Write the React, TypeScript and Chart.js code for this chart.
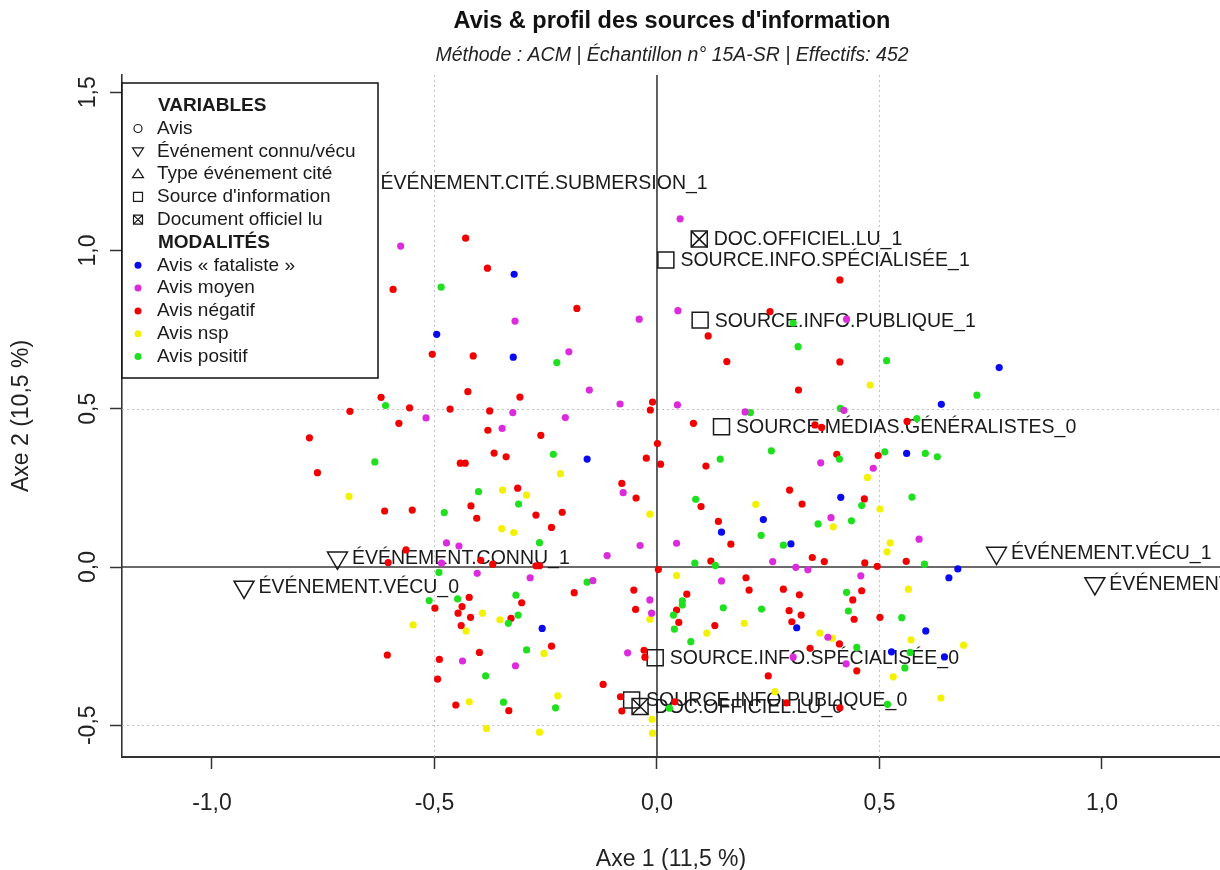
import React, { useEffect, useRef } from "react";
import { Chart, registerables } from "chart.js";

Chart.register(...registerables);

type Pt = [number, number];

// ---------------- DATA ----------------
const avisFataliste: Pt[] = [
  [-0.321, 0.925], [-0.495, 0.735], [-0.323, 0.663], [-0.157, 0.341], [0.769, 0.630], [0.639, 0.514],
  [0.561, 0.359], [0.413, 0.220], [0.239, 0.150], [0.145, 0.110], [0.301, 0.073], [0.676, -0.006],
  [0.656, -0.034], [-0.258, -0.194], [0.314, -0.192], [0.604, -0.202], [0.527, -0.268], [0.646, -0.284],
];

const avisMoyen: Pt[] = [
  [0.052, 1.100], [-0.576, 1.014], [0.047, 0.810], [-0.040, 0.783], [-0.319, 0.777], [0.426, 0.783],
  [-0.198, 0.680], [-0.152, 0.559], [-0.083, 0.515], [0.046, 0.512], [-0.324, 0.488], [-0.206, 0.472],
  [-0.519, 0.471], [-0.348, 0.438], [0.198, 0.490], [0.420, 0.495], [0.368, 0.329], [0.486, 0.312],
  [0.391, 0.156], [0.589, 0.088], [0.044, 0.075], [-0.038, 0.068], [-0.112, 0.036], [-0.473, 0.076],
  [-0.445, 0.066], [-0.484, 0.012], [-0.404, -0.020], [-0.285, -0.034], [-0.144, -0.043], [0.260, 0.017],
  [0.312, -0.001], [0.339, -0.009], [0.458, -0.028], [0.145, -0.044], [-0.016, -0.104], [-0.012, -0.146],
  [0.384, -0.222], [-0.066, -0.271], [0.306, -0.285], [0.425, -0.306], [-0.437, -0.297], [-0.318, -0.312],
  [-0.076, 0.235],
];

const avisNegatif: Pt[] = [
  [-0.430, 1.039], [-0.381, 0.944], [0.411, 0.907], [-0.593, 0.877], [-0.180, 0.817], [0.254, 0.807],
  [0.115, 0.730], [-0.505, 0.672], [-0.413, 0.667], [0.157, 0.649], [0.411, 0.648], [0.318, 0.559],
  [-0.425, 0.554], [-0.308, 0.537], [-0.620, 0.536], [-0.690, 0.492], [-0.556, 0.503], [-0.465, 0.499],
  [-0.376, 0.493], [-0.010, 0.521], [-0.015, 0.496], [-0.580, 0.454], [-0.380, 0.432], [-0.261, 0.416],
  [0.082, 0.454], [0.355, 0.449], [0.370, 0.441], [0.562, 0.460], [-0.781, 0.408], [0.001, 0.390],
  [-0.024, 0.344], [-0.366, 0.360], [-0.339, 0.348], [0.404, 0.356], [0.497, 0.352], [0.008, 0.325],
  [0.110, 0.319], [-0.763, 0.298], [-0.442, 0.328], [-0.431, 0.328], [-0.079, 0.264], [-0.047, 0.218],
  [-0.313, 0.249], [-0.418, 0.193], [0.298, 0.243], [0.326, 0.199], [0.466, 0.215], [0.099, 0.191],
  [-0.612, 0.177], [-0.550, 0.180], [-0.405, 0.154], [-0.272, 0.164], [-0.213, 0.173], [-0.237, 0.125],
  [0.138, 0.144], [0.166, 0.072], [-0.564, 0.054], [-0.604, 0.014], [-0.396, 0.021], [-0.369, 0.009],
  [-0.272, 0.004], [-0.264, 0.004], [0.121, 0.019], [0.349, 0.030], [0.376, 0.017], [0.467, 0.013],
  [0.495, 0.002], [0.560, 0.018], [0.003, -0.008], [0.200, -0.034], [-0.052, -0.073], [-0.186, -0.081],
  [0.207, -0.073], [0.284, -0.070], [0.460, -0.075], [0.067, -0.086], [0.320, -0.088], [0.440, -0.104],
  [-0.422, -0.096], [-0.499, -0.130], [-0.438, -0.125], [-0.447, -0.146], [-0.419, -0.159], [-0.440, -0.185],
  [-0.304, -0.113], [-0.328, -0.162], [-0.048, -0.134], [0.044, -0.136], [0.049, -0.175], [0.130, -0.185],
  [0.297, -0.138], [0.324, -0.152], [0.303, -0.173], [0.443, -0.165], [0.501, -0.159], [0.410, -0.243],
  [0.344, -0.257], [-0.029, -0.263], [-0.027, -0.285], [-0.237, -0.250], [-0.399, -0.270], [-0.606, -0.278],
  [-0.489, -0.292], [-0.493, -0.354], [0.449, -0.328], [0.250, -0.344], [-0.121, -0.371], [-0.082, -0.410],
  [-0.079, -0.455], [0.040, -0.426], [0.291, -0.429], [0.411, -0.445], [-0.452, -0.436], [-0.333, -0.454],
];

const avisNsp: Pt[] = [
  [0.479, 0.575], [0.473, 0.283], [-0.217, 0.295], [-0.692, 0.223], [-0.347, 0.243], [-0.293, 0.227],
  [-0.016, 0.167], [-0.349, 0.121], [-0.322, 0.109], [0.222, 0.198], [0.501, 0.183], [0.396, 0.127],
  [0.524, 0.076], [0.517, 0.048], [0.044, -0.027], [0.565, -0.070], [-0.016, -0.165], [-0.392, -0.146],
  [-0.353, -0.167], [-0.548, -0.183], [-0.429, -0.202], [0.196, -0.178], [0.112, -0.209], [0.366, -0.209],
  [0.394, -0.225], [0.571, -0.230], [0.689, -0.247], [-0.254, -0.273], [0.531, -0.347], [0.265, -0.394],
  [0.638, -0.414], [-0.223, -0.407], [-0.422, -0.426], [-0.383, -0.510], [-0.264, -0.522], [-0.011, -0.481],
  [-0.010, -0.525],
];

const avisPositif: Pt[] = [
  [-0.485, 0.884], [0.306, 0.771], [0.317, 0.696], [-0.225, 0.646], [0.516, 0.652], [0.719, 0.543],
  [-0.610, 0.510], [0.210, 0.488], [0.412, 0.501], [0.584, 0.469], [0.142, 0.341], [0.257, 0.367],
  [0.410, 0.341], [0.512, 0.364], [0.603, 0.359], [0.630, 0.348], [-0.233, 0.356], [-0.634, 0.332],
  [-0.401, 0.238], [-0.311, 0.199], [-0.478, 0.172], [0.087, 0.214], [0.460, 0.194], [0.573, 0.221],
  [0.234, 0.100], [0.362, 0.136], [0.437, 0.146], [-0.264, 0.077], [0.284, 0.069], [0.085, 0.012],
  [0.131, 0.005], [0.601, 0.009], [-0.490, -0.017], [-0.157, -0.048], [-0.512, -0.106], [-0.448, -0.101],
  [-0.317, -0.089], [-0.312, -0.152], [-0.334, -0.178], [0.057, -0.107], [0.057, -0.120], [0.037, -0.152],
  [0.039, -0.196], [0.149, -0.129], [0.235, -0.133], [0.426, -0.080], [0.430, -0.139], [0.550, -0.160],
  [0.076, -0.236], [0.449, -0.254], [0.569, -0.270], [0.557, -0.319], [-0.293, -0.262], [-0.385, -0.344],
  [-0.345, -0.427], [-0.228, -0.445], [0.518, -0.434], [0.028, -0.446],
];

// Supplementary categories (labelled)
const sourceLabels = [
  "SOURCE.INFO.SPÉCIALISÉE_1", "SOURCE.INFO.PUBLIQUE_1", "SOURCE.MÉDIAS.GÉNÉRALISTES_0",
  "SOURCE.INFO.SPÉCIALISÉE_0", "SOURCE.INFO.PUBLIQUE_0",
];
const sourceCoords: Pt[] = [[0.020, 0.970], [0.097, 0.780], [0.145, 0.443], [-0.004, -0.287], [-0.057, -0.420]];

const docLabels = ["DOC.OFFICIEL.LU_1", "DOC.OFFICIEL.LU_0"];
const docCoords: Pt[] = [[0.095, 1.036], [-0.038, -0.441]];

const evenementLabels = ["ÉVÉNEMENT.CONNU_1", "ÉVÉNEMENT.VÉCU_0", "ÉVÉNEMENT.VÉCU_1", "ÉVÉNEMENT.CONNU_0"];
const evenementCoords: Pt[] = [[-0.718, 0.029], [-0.928, -0.063], [0.763, 0.044], [0.984, -0.052]];

const typeCiteLabels = ["ÉVÉNEMENT.CITÉ.SUBMERSION_1"];
const typeCiteCoords: Pt[] = [[-0.654, 1.216]];

// Text
const titleText = "Avis & profil des sources d'information";
const subtitleText = "Méthode : ACM | Échantillon n° 15A-SR | Effectifs: 452";
const xAxisTitle = "Axe 1 (11,5 %)";
const yAxisTitle = "Axe 2 (10,5 %)";
const variablesHeader = "VARIABLES";
const variableItems = ["Avis", "Événement connu/vécu", "Type événement cité", "Source d'information", "Document officiel lu"];
const variableSymbols = ["circle", "triDown", "triUp", "square", "crossSquare"];
const modalitesHeader = "MODALITÉS";
const modaliteItems = ["Avis « fataliste »", "Avis moyen", "Avis négatif", "Avis nsp", "Avis positif"];
const guideValues = [-0.5, 0.5];

// ---------------- STYLE ----------------
const BLUE = "#0a0af0";
const MAGENTA = "#dc2bdc";
const RED = "#f20000";
const YELLOW = "#f2f200";
const GREEN = "#1ee01e";
const modaliteColors = [BLUE, MAGENTA, RED, YELLOW, GREEN];
const FONT = "'Liberation Sans', Arial, Helvetica, sans-serif";
const INK = "#1a1a1a";

const toXY = (arr: Pt[]) => arr.map(([x, y]) => ({ x, y }));
const fmt = (v: number | string) => Number(v).toFixed(1).replace(".", ",").replace("-0,0", "0,0");

function drawSymbol(ctx: CanvasRenderingContext2D, kind: string, x: number, y: number) {
  ctx.save();
  ctx.strokeStyle = INK;
  ctx.lineWidth = 1.2;
  ctx.beginPath();
  if (kind === "circle") {
    ctx.arc(x, y, 4, 0, Math.PI * 2);
  } else if (kind === "triDown") {
    ctx.moveTo(x - 5.5, y - 3.5);
    ctx.lineTo(x + 5.5, y - 3.5);
    ctx.lineTo(x, y + 5);
    ctx.closePath();
  } else if (kind === "triUp") {
    ctx.moveTo(x - 5.5, y + 3.5);
    ctx.lineTo(x + 5.5, y + 3.5);
    ctx.lineTo(x, y - 5);
    ctx.closePath();
  } else if (kind === "square" || kind === "crossSquare") {
    ctx.rect(x - 4.5, y - 4.5, 9, 9);
    if (kind === "crossSquare") {
      ctx.moveTo(x - 4.5, y - 4.5);
      ctx.lineTo(x + 4.5, y + 4.5);
      ctx.moveTo(x + 4.5, y - 4.5);
      ctx.lineTo(x - 4.5, y + 4.5);
    }
  }
  ctx.stroke();
  ctx.restore();
}

const guidePlugin = {
  id: "guides",
  beforeDatasetsDraw(chart: any) {
    const { ctx, chartArea: a, scales } = chart;
    const xs = scales.x;
    const ys = scales.y;
    ctx.save();
    ctx.strokeStyle = "#c2c2c2";
    ctx.lineWidth = 1;
    ctx.setLineDash([2, 3]);
    for (const v of guideValues) {
      const px = Math.round(xs.getPixelForValue(v)) + 0.5;
      ctx.beginPath();
      ctx.moveTo(px, a.top);
      ctx.lineTo(px, a.bottom);
      ctx.stroke();
      const py = Math.round(ys.getPixelForValue(v)) + 0.5;
      ctx.beginPath();
      ctx.moveTo(a.left, py);
      ctx.lineTo(a.right, py);
      ctx.stroke();
    }
    ctx.setLineDash([]);
    ctx.strokeStyle = "#3a3a3a";
    ctx.lineWidth = 1.6;
    const x0 = xs.getPixelForValue(0);
    ctx.beginPath();
    ctx.moveTo(x0, a.top);
    ctx.lineTo(x0, a.bottom);
    ctx.stroke();
    const y0 = ys.getPixelForValue(0);
    ctx.beginPath();
    ctx.moveTo(a.left, y0);
    ctx.lineTo(a.right, y0);
    ctx.stroke();
    ctx.restore();
  },
};

const pointLabelPlugin = {
  id: "pointLabels",
  afterDatasetDraw(chart: any, args: any) {
    const ds: any = chart.data.datasets[args.index];
    if (!ds.pointLabels) return;
    const ctx = chart.ctx;
    ctx.save();
    ctx.font = `19.5px ${FONT}`;
    ctx.fillStyle = INK;
    ctx.textAlign = "left";
    ctx.textBaseline = "middle";
    args.meta.data.forEach((el: any, i: number) => {
      ctx.fillText(ds.pointLabels[i], el.x + 14.5, el.y + 1);
    });
    ctx.restore();
  },
};

const decorPlugin = {
  id: "decor",
  afterDraw(chart: any) {
    const { ctx, chartArea: a } = chart;
    const cx = (a.left + a.right) / 2 + 1;
    ctx.save();
    // Title & subtitle
    ctx.fillStyle = "#111";
    ctx.textAlign = "center";
    ctx.textBaseline = "middle";
    ctx.font = `bold 23.5px ${FONT}`;
    ctx.fillText(titleText, cx, 22);
    ctx.font = `italic 19.5px ${FONT}`;
    ctx.fillStyle = "#222";
    ctx.fillText(subtitleText, cx, 56);

    // Legend box
    const bx = a.left;
    const by = 83;
    const bw = 256;
    const bh = 295;
    ctx.fillStyle = "#ffffff";
    ctx.fillRect(bx, by, bw, bh);
    ctx.strokeStyle = "#111";
    ctx.lineWidth = 1.5;
    ctx.strokeRect(bx, by, bw, bh);

    const rowH = 22.8;
    const textX = 157;
    const symX = 138;
    let yy = 105.7;
    ctx.textAlign = "left";
    ctx.textBaseline = "middle";
    ctx.fillStyle = INK;
    ctx.font = `bold 19px ${FONT}`;
    ctx.fillText(variablesHeader, textX + 1, yy);
    ctx.font = `19px ${FONT}`;
    variableItems.forEach((t, i) => {
      yy += rowH;
      drawSymbol(ctx, variableSymbols[i], symX, yy);
      ctx.fillStyle = INK;
      ctx.fillText(t, textX, yy);
    });
    yy += rowH;
    ctx.font = `bold 19px ${FONT}`;
    ctx.fillText(modalitesHeader, textX + 1, yy);
    ctx.font = `19px ${FONT}`;
    modaliteItems.forEach((t, i) => {
      yy += rowH;
      ctx.beginPath();
      ctx.fillStyle = modaliteColors[i];
      ctx.arc(symX, yy, 3.5, 0, Math.PI * 2);
      ctx.fill();
      ctx.fillStyle = INK;
      ctx.fillText(t, textX, yy);
    });
    ctx.restore();
  },
};

const dotDataset = (label: string, data: Pt[], color: string) => ({
  label,
  data: toXY(data),
  pointStyle: "circle",
  pointRadius: 3.6,
  pointBackgroundColor: color,
  pointBorderColor: color,
  pointBorderWidth: 0,
});

const markerDataset = (label: string, data: Pt[], style: string, radius: number, rotation: number, labels?: string[]) => ({
  label,
  data: toXY(data),
  pointStyle: style,
  pointRadius: radius,
  pointRotation: rotation,
  pointBackgroundColor: "rgba(0,0,0,0)",
  pointBorderColor: INK,
  pointBorderWidth: 1.5,
  pointLabels: labels,
});

export default function App() {
  const ref = useRef<HTMLCanvasElement | null>(null);

  useEffect(() => {
    if (!ref.current) return;
    const tickFont = { family: FONT, size: 23 };
    const chart = new Chart(ref.current, {
      type: "scatter",
      data: {
        datasets: [
          dotDataset("Avis « fataliste »", avisFataliste, BLUE),
          dotDataset("Avis moyen", avisMoyen, MAGENTA),
          dotDataset("Avis nsp", avisNsp, YELLOW),
          dotDataset("Avis positif", avisPositif, GREEN),
          dotDataset("Avis négatif", avisNegatif, RED),
          markerDataset("Source d'information", sourceCoords, "rect", 11.3, 0, sourceLabels),
          markerDataset("Document officiel lu", docCoords, "crossRot", 11.3, 0),
          markerDataset("Document officiel lu (cadre)", docCoords, "rect", 11.3, 0, docLabels),
          markerDataset("Événement connu/vécu", evenementCoords, "triangle", 11.5, 180, evenementLabels),
          markerDataset("Type événement cité", typeCiteCoords, "triangle", 11.5, 0, typeCiteLabels),
        ] as any,
      },
      options: {
        responsive: false,
        animation: false,
        events: [],
        layout: { autoPadding: false, padding: { top: 75, left: 0, right: 0, bottom: 0 } },
        plugins: {
          legend: { display: false },
          tooltip: { enabled: false },
          title: { display: false },
        },
        scales: {
          x: {
            type: "linear",
            position: "bottom",
            min: -1.2022,
            max: 1.2652,
            ticks: {
              stepSize: 0.5,
              includeBounds: false,
              autoSkip: false,
              maxRotation: 0,
              minRotation: 0,
              padding: 21,
              color: "#222",
              font: tickFont,
              callback: (v: any) => fmt(v),
            },
            grid: { display: true, drawOnChartArea: false, drawTicks: true, tickLength: 12, tickColor: "#333", tickWidth: 1.5 },
            border: { display: true, color: "#333", width: 2 },
            title: { display: true, text: xAxisTitle, color: "#222", font: tickFont, padding: { top: 0, bottom: -3 } },
            afterFit: (s: any) => {
              s.height = 113;
              s.paddingLeft = 0;
              s.paddingRight = 0;
            },
          },
          y: {
            type: "linear",
            position: "left",
            min: -0.6003,
            max: 1.5545,
            ticks: {
              stepSize: 0.5,
              includeBounds: false,
              autoSkip: false,
              minRotation: 90,
              maxRotation: 90,
              crossAlign: "center",
              padding: 2,
              color: "#222",
              font: tickFont,
              callback: (v: any) => fmt(v),
            },
            grid: { display: true, drawOnChartArea: false, drawTicks: true, tickLength: 12, tickColor: "#333", tickWidth: 1.5 },
            border: { display: true, color: "#333", width: 1.6 },
            title: { display: true, text: yAxisTitle, color: "#222", font: tickFont, padding: { top: 8, bottom: 0 } },
            afterFit: (s: any) => {
              s.width = 122;
              s.paddingTop = 0;
              s.paddingBottom = 0;
            },
          },
        },
      } as any,
      plugins: [guidePlugin, pointLabelPlugin, decorPlugin],
    });
    return () => chart.destroy();
  }, []);

  return (
    <div style={{ position: "absolute", left: 0, top: 0, width: 1220, height: 870, overflow: "hidden", background: "#fff" }}>
      <canvas ref={ref} width={1220} height={870} style={{ display: "block" }} />
    </div>
  );
}
